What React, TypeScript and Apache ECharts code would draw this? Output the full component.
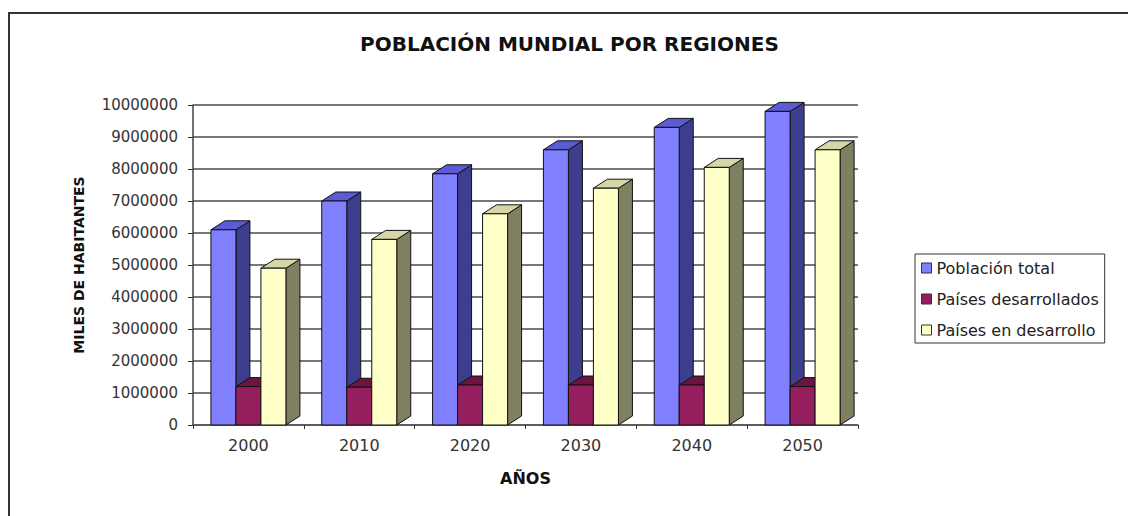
import React, { useEffect, useRef } from "react";
import * as echarts from "echarts";

const categories = ["2000", "2010", "2020", "2030", "2040", "2050"];
const poblacionTotal = [6100000, 7000000, 7850000, 8600000, 9300000, 9800000];
const paisesDesarrollados = [1200000, 1180000, 1250000, 1250000, 1250000, 1200000];
const paisesEnDesarrollo = [4900000, 5800000, 6600000, 7400000, 8050000, 8600000];
const seriesNames = ["Población total", "Países desarrollados", "Países en desarrollo"];

const palettes = [
  { front: "#8080FF", side: "#3E3E8E", top: "#5B5BD6" },
  { front: "#951E5E", side: "#4A0F30", top: "#6A1540" },
  { front: "#FFFFC8", side: "#7F7F62", top: "#D6D6A8" },
];

export default function App() {
  const ref = useRef<HTMLDivElement>(null);
  useEffect(() => {
    if (!ref.current) return;
    const chart = echarts.init(ref.current, null, { renderer: "svg" });
    const allValues = [poblacionTotal, paisesDesarrollados, paisesEnDesarrollo];
    const series = allValues.map((vals, idx) => ({
      type: "custom",
      name: seriesNames[idx],
      itemStyle: { color: palettes[idx].front, borderColor: "#333", borderWidth: 1 },
      encode: { x: 0, y: 1 },
      data: vals.map((v, i) => [i, v]),
      renderItem: (params: any, api: any) => {
        const cat = api.value(0);
        const val = api.value(1);
        const top = api.coord([cat, val]);
        const base = api.coord([cat, 0]);
        const band = api.size([1, 0])[0];
        const w = band * 0.2256;
        const x0 = top[0] - 1.5 * w + idx * w;
        const yT = top[1];
        const yB = base[1];
        const dx = 14;
        const dy = 9;
        const p = palettes[idx];
        return {
          type: "group",
          children: [
            {
              type: "polygon",
              shape: { points: [[x0 + w, yT], [x0 + w + dx, yT - dy], [x0 + w + dx, yB - dy], [x0 + w, yB]] },
              style: { fill: p.side, stroke: "#111", lineWidth: 1 },
            },
            {
              type: "polygon",
              shape: { points: [[x0, yT], [x0 + dx, yT - dy], [x0 + w + dx, yT - dy], [x0 + w, yT]] },
              style: { fill: p.top, stroke: "#111", lineWidth: 1 },
            },
            {
              type: "rect",
              shape: { x: x0, y: yT, width: w, height: yB - yT },
              style: { fill: p.front, stroke: "#111", lineWidth: 1 },
            },
          ],
        };
      },
    }));

    chart.setOption({
      animation: false,
      backgroundColor: "#ffffff",
      title: {
        text: "POBLACIÓN MUNDIAL POR REGIONES",
        left: 360,
        top: 34,
        padding: 0,
        textStyle: { fontFamily: "DejaVu Sans", fontWeight: "bold", fontSize: 20, color: "#111" },
      },
      legend: {
        orient: "vertical",
        left: 915,
        top: 254,
        padding: [6, 6, 5, 6],
        itemWidth: 10,
        itemHeight: 10,
        itemGap: 15,
        borderColor: "#333",
        borderWidth: 1,
        textStyle: { fontFamily: "DejaVu Sans", fontSize: 16, color: "#222" },
        data: seriesNames.map((n, i) => ({
          name: n,
          icon: "rect",
          itemStyle: { color: palettes[i].front, borderColor: "#333", borderWidth: 1 },
        })),
      },
      grid: { left: 193, top: 105, width: 665, height: 320 },
      xAxis: {
        type: "category",
        data: categories,
        name: "AÑOS",
        nameLocation: "middle",
        nameGap: 45,
        nameTextStyle: { fontFamily: "DejaVu Sans", fontWeight: "bold", fontSize: 16, color: "#111" },
        axisLine: { lineStyle: { color: "#555", width: 1.5 } },
        axisTick: { show: true, length: 4, lineStyle: { color: "#333" } },
        axisLabel: { margin: 12, fontFamily: "DejaVu Sans", fontSize: 16, color: "#333" },
      },
      yAxis: {
        type: "value",
        min: 0,
        max: 10000000,
        interval: 1000000,
        name: "MILES DE HABITANTES",
        nameLocation: "middle",
        nameGap: 107,
        nameRotate: 90,
        nameTextStyle: { fontFamily: "DejaVu Sans", fontWeight: "bold", fontSize: 14, color: "#111" },
        axisLine: { show: true, lineStyle: { color: "#444", width: 1.5 } },
        axisTick: { show: true, length: 5, lineStyle: { color: "#333" } },
        axisLabel: {
          margin: 15,
          fontFamily: "DejaVu Sans",
          fontSize: 15,
          color: "#333",
          formatter: (v: number) => String(v),
        },
        splitLine: { show: true, lineStyle: { color: "#4a4a4a", width: 1.5 } },
      },
      graphic: [
        {
          type: "rect",
          shape: { x: 9, y: 13, width: 1125, height: 512 },
          style: { fill: "none", stroke: "#333", lineWidth: 2 },
          silent: true,
        },
      ],
      series,
    });
    return () => chart.dispose();
  }, []);
  return (
    <div
      ref={ref}
      style={{ position: "absolute", left: 0, top: 0, width: 1128, height: 516, background: "#fff" }}
    />
  );
}
